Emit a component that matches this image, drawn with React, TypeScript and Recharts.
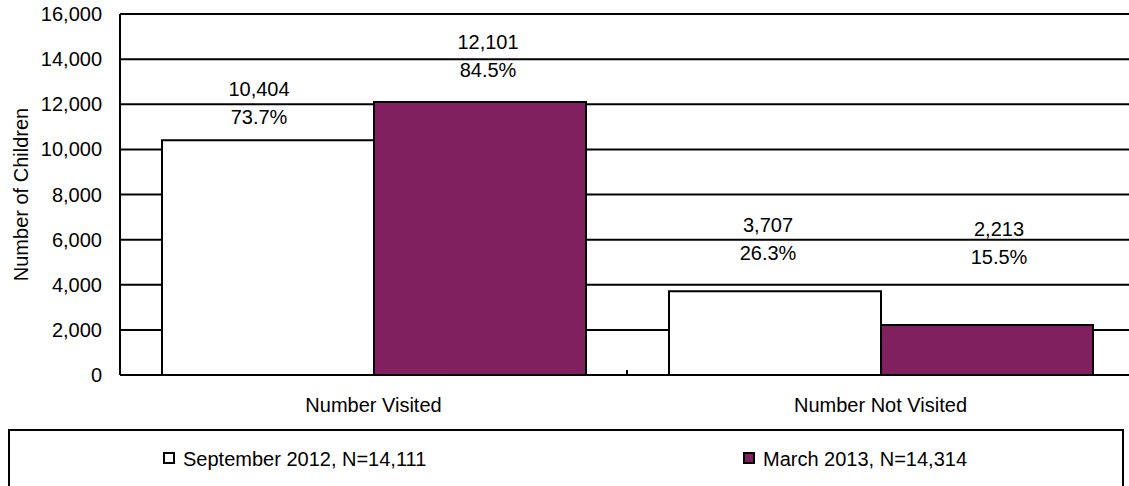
import React from 'react';
import { BarChart, Bar, XAxis, YAxis, CartesianGrid, Legend, LabelList } from 'recharts';

const categories = ['Number Visited', 'Number Not Visited'];
const septemberValues = [10404, 3707];
const marchValues = [12101, 2213];
const septemberPercents = ['73.7%', '26.3%'];
const marchPercents = ['84.5%', '15.5%'];
const seriesNames = ['September 2012, N=14,111', 'March 2013, N=14,314'];
const yTicks = [0, 2000, 4000, 6000, 8000, 10000, 12000, 14000, 16000];
const yAxisTitle = 'Number of Children';

const data = categories.map((category, i) => ({
  category,
  sep: septemberValues[i],
  mar: marchValues[i],
}));

// layout / style constants
const FONT = '"Liberation Sans", Arial, Helvetica, sans-serif';
const FS = 20;
const PURPLE = '#80205F';
const sepNudge = [
  { dx: -9, lift: 23 },
  { dx: -7, lift: 38 },
];
const marNudge = [
  { dx: 8, lift: 31.5 },
  { dx: 12, lift: 68.5 },
];

const fmt = (v: number) => Number(v).toLocaleString('en-US');

const makeLabel = (pcts: string[], nudges: { dx: number; lift: number }[]) => (props: any) => {
  const { x, y, width, index, value } = props;
  const n = nudges[index] || { dx: 0, lift: 25 };
  const cx = Number(x) + Number(width) / 2 + n.dx;
  const pctY = Number(y) - n.lift;
  return (
    <g>
      <text x={cx} y={pctY - 28} dy="0.35em" textAnchor="middle" fill="#000" fontSize={FS} fontFamily={FONT}>
        {fmt(value)}
      </text>
      <text x={cx} y={pctY} dy="0.35em" textAnchor="middle" fill="#000" fontSize={FS} fontFamily={FONT}>
        {pcts[index]}
      </text>
    </g>
  );
};

const XTick = (props: any) => {
  const { x, y, payload, index } = props;
  const half = payload && typeof payload.offset === 'number' ? payload.offset : 0;
  return (
    <g>
      <text x={x} y={y + 22.5} dy="0.71em" textAnchor="middle" fill="#000" fontSize={FS} fontFamily={FONT}>
        {payload.value}
      </text>
      {index === 0 && half > 0 && (
        <line x1={x + half} x2={x + half} y1={y} y2={y - 5} stroke="#000" strokeWidth={2} />
      )}
    </g>
  );
};

const YTitle = (props: any) => {
  const vb = props.viewBox || { x: 0, y: 14, width: 120, height: 361 };
  const cx = 21;
  const cy = vb.y + vb.height / 2;
  return (
    <text
      x={cx}
      y={cy}
      dy="0.35em"
      transform={`rotate(-90 ${cx} ${cy})`}
      textAnchor="middle"
      fill="#000"
      fontSize={FS}
      fontFamily={FONT}
    >
      {yAxisTitle}
    </text>
  );
};

const LegendBox = () => {
  const items = [
    { name: seriesNames[0], fill: '#FFFFFF', left: 153 },
    { name: seriesNames[1], fill: PURPLE, left: 733 },
  ];
  return (
    <div
      style={{
        position: 'relative',
        width: 1116,
        height: 70,
        border: '2px solid #000',
        boxSizing: 'border-box',
        background: '#fff',
        fontFamily: FONT,
        fontSize: FS,
        color: '#000',
      }}
    >
      {items.map((it) => (
        <div
          key={it.name}
          style={{
            position: 'absolute',
            left: it.left,
            top: 16,
            height: 24,
            display: 'flex',
            alignItems: 'center',
            whiteSpace: 'nowrap',
          }}
        >
          <span
            style={{
              display: 'inline-block',
              width: 12,
              height: 12,
              boxSizing: 'border-box',
              border: '2px solid #000',
              background: it.fill,
              marginRight: 8,
              marginTop: -2,
            }}
          />
          <span style={{ lineHeight: '24px' }}>{it.name}</span>
        </div>
      ))}
    </div>
  );
};

export default function App() {
  return (
    <div
      style={{
        position: 'absolute',
        left: 0,
        top: 0,
        width: 1129,
        height: 486,
        overflow: 'hidden',
        background: '#fff',
        fontFamily: FONT,
      }}
    >
      <BarChart
        width={1129}
        height={486}
        data={data}
        margin={{ top: 14, right: -5, left: 0, bottom: 71 }}
        barCategoryGap={42}
        barGap={0}
      >
        <CartesianGrid horizontal vertical={false} stroke="#000" strokeWidth={2} />
        <XAxis
          dataKey="category"
          height={40}
          axisLine={{ stroke: '#000', strokeWidth: 2 }}
          tickLine={false}
          tickSize={0}
          tickMargin={0}
          tick={<XTick />}
          interval={0}
        />
        <YAxis
          width={120}
          domain={[0, 16000]}
          ticks={yTicks}
          interval={0}
          tickFormatter={fmt}
          axisLine={{ stroke: '#000', strokeWidth: 2 }}
          tickLine={false}
          tickSize={16}
          tickMargin={2}
          tick={{ fill: '#000', fontSize: FS, fontFamily: FONT }}
          label={{ value: yAxisTitle, content: (p: any) => <YTitle {...p} /> }}
        />
        <Legend
          layout="horizontal"
          verticalAlign="middle"
          align="center"
          wrapperStyle={{ left: 8, top: 429, width: 1116, height: 70 }}
          content={() => <LegendBox />}
        />
        <Bar dataKey="sep" name={seriesNames[0]} fill="#FFFFFF" stroke="#000" strokeWidth={2} isAnimationActive={false}>
          <LabelList dataKey="sep" content={makeLabel(septemberPercents, sepNudge)} />
        </Bar>
        <Bar dataKey="mar" name={seriesNames[1]} fill={PURPLE} stroke="#000" strokeWidth={2} isAnimationActive={false}>
          <LabelList dataKey="mar" content={makeLabel(marchPercents, marNudge)} />
        </Bar>
      </BarChart>
    </div>
  );
}
